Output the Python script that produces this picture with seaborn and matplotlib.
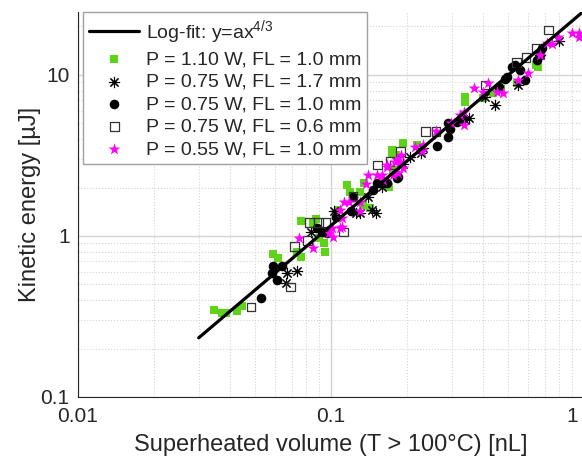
import numpy as np
import matplotlib
matplotlib.use("Agg")
import matplotlib.pyplot as plt
import matplotlib.ticker as mticker
import matplotlib.transforms as mtransforms
import seaborn as sns

# ---------------- data ----------------
fit_a = 25.0
fit_exp = 4.0 / 3.0
fit_x = [0.03, 1.0]

green_x = [0.0345, 0.037, 0.0385, 0.0425, 0.0445, 0.0592, 0.0619, 0.0732, 0.076, 0.0762,
           0.085, 0.0875, 0.090, 0.0935, 0.0948, 0.107, 0.1153, 0.119, 0.130, 0.134,
           0.1345, 0.143, 0.170, 0.174, 0.174, 0.176, 0.181, 0.192, 0.218, 0.225,
           0.339, 0.34, 0.40, 0.438, 0.47, 0.542, 0.646, 0.659]
green_y = [0.347, 0.334, 0.334, 0.34, 0.365, 0.773, 0.727, 0.80, 0.737, 1.23,
           1.2, 1.28, 0.968, 0.90, 0.80, 1.46, 2.07, 1.88, 1.88, 1.56,
           2.12, 1.49, 2.02, 3.25, 3.42, 2.57, 3.18, 3.77, 3.67, 3.59,
           6.82, 7.33, 7.16, 7.69, 8.15, 8.95, 11.53, 11.2]

aster_x = [0.0664, 0.0672, 0.0736, 0.083, 0.103, 0.1256, 0.130, 0.1405, 0.145, 0.1506,
           0.1585, 0.193, 0.205, 0.227, 0.232, 0.34, 0.352, 0.405, 0.445, 0.55, 0.67, 0.80]
aster_y = [0.51, 0.59, 0.609, 1.06, 1.42, 1.38, 1.38, 1.75, 1.45, 1.38,
           2.02, 2.8, 3.11, 3.29, 3.51, 5.25, 5.38, 7.33, 6.51, 8.66, 13.3, 16.3]

circle_x = [0.0528, 0.0583, 0.0592, 0.0614, 0.064, 0.0878, 0.0918, 0.0962, 0.105, 0.120,
            0.1225, 0.147, 0.1525, 0.166, 0.182, 0.184, 0.263, 0.289, 0.291, 0.295,
            0.314, 0.324, 0.333, 0.462, 0.4875, 0.494, 0.518, 0.534, 0.558, 0.585,
            0.65, 0.67, 0.681]
circle_y = [0.412, 0.59, 0.65, 0.533, 0.655, 1.12, 1.06, 1.04, 1.32, 1.42,
            1.75, 1.93, 2.12, 2.12, 2.28, 2.34, 3.62, 5.01, 4.14, 4.6,
            5.13, 5.25, 5.38, 8.39, 9.4, 9.75, 11.26, 11.53, 10.74, 9.31,
            12.39, 13.31, 14.65]

open_x = [0.0483, 0.069, 0.0715, 0.0808, 0.082, 0.0891, 0.0948, 0.112, 0.1222, 0.1524,
          0.171, 0.178, 0.1886, 0.2355, 0.26, 0.406, 0.542, 0.59, 0.646, 0.723]
open_y = [0.362, 0.482, 0.858, 0.935, 1.21, 1.21, 1.21, 1.06, 1.75, 2.76,
          2.89, 2.76, 3.34, 4.45, 4.45, 8.66, 11.92, 12.88, 14.65, 19.0]

star_x = [0.0747, 0.0849, 0.098, 0.1006, 0.1022, 0.1086, 0.109, 0.111, 0.111, 0.113,
          0.118, 0.130, 0.130, 0.1375, 0.1405, 0.1524, 0.1585, 0.161, 0.166, 0.166,
          0.176, 0.1785, 0.183, 0.1845, 0.187, 0.189, 0.192, 0.215, 0.229, 0.231,
          0.26, 0.297, 0.3236, 0.336, 0.336, 0.367, 0.40, 0.419, 0.451, 0.48,
          0.55, 0.603, 0.67, 0.713, 0.745, 0.791, 0.90, 0.957, 0.957]
star_y = [0.968, 0.846, 1.04, 1.12, 0.99, 1.12, 1.45, 1.13, 1.29, 1.63,
          1.63, 1.63, 1.42, 2.09, 2.39, 2.39, 2.39, 2.23, 2.76, 2.69,
          2.39, 2.86, 2.96, 2.45, 2.89, 3.18, 2.63, 3.56, 3.38, 3.67,
          4.51, 5.01, 5.65, 5.92, 4.89, 8.25, 7.87, 8.95, 7.87, 7.76,
          9.31, 10.33, 13.31, 15.85, 15.6, 17.3, 18.24, 18.24, 17.3]

labels = ["Log-fit: y=ax$^{4/3}$",
          "P = 1.10 W, FL = 1.0 mm",
          "P = 0.75 W, FL = 1.7 mm",
          "P = 0.75 W, FL = 1.0 mm",
          "P = 0.75 W, FL = 0.6 mm",
          "P = 0.55 W, FL = 1.0 mm"]
x_ticks = [0.01, 0.1, 1]
x_ticklabels = ["0.01", "0.1", "1"]
y_ticks = [0.1, 1, 10]
y_ticklabels = ["0.1", "1", "10"]

# ---------------- style ----------------
sns.set_style("white")
plt.rcParams["font.family"] = ["Liberation Sans", "DejaVu Sans"]
plt.rcParams["mathtext.fontset"] = "custom"
plt.rcParams["mathtext.rm"] = "Liberation Sans"
plt.rcParams["mathtext.default"] = "regular"

fig = plt.figure(figsize=(5.82, 4.66), dpi=100)
ax = fig.add_axes([78 / 582, 69 / 466, 506 / 582, 385 / 466])
ax.set_xscale("log")
ax.set_yscale("log")

green = "#5fd31a"
magenta = "#ff00ff"

sns.scatterplot(x=green_x, y=green_y, ax=ax, marker="s", s=38, color=green,
                edgecolor=green, linewidth=0, label=labels[1], zorder=3)
sns.scatterplot(x=aster_x, y=aster_y, ax=ax, marker=(8, 2, 0), s=55, color="black",
                edgecolor="black", linewidth=0.8, label=labels[2], zorder=3)
sns.scatterplot(x=circle_x, y=circle_y, ax=ax, marker="o", s=48, color="black",
                edgecolor="black", linewidth=0, label=labels[3], zorder=3)
sns.scatterplot(x=open_x, y=open_y, ax=ax, marker="s", s=40, facecolor="none",
                edgecolor="#333333", linewidth=0.9, label=labels[4], zorder=3)
sns.scatterplot(x=star_x, y=star_y, ax=ax, marker="*", s=80, color=magenta,
                edgecolor=magenta, linewidth=0, label=labels[5], zorder=3)

fit_y = [fit_a * xv ** fit_exp for xv in fit_x]
sns.lineplot(x=fit_x, y=fit_y, ax=ax, color="black", linewidth=2.3,
             label=labels[0], sort=False, estimator=None, zorder=4)

ax.set_xlim(0.01, 1.0)
ax.set_ylim(0.1, 24.6)

ax.xaxis.set_major_locator(mticker.FixedLocator(x_ticks))
ax.xaxis.set_major_formatter(mticker.FixedFormatter(x_ticklabels))
ax.yaxis.set_major_locator(mticker.FixedLocator(y_ticks))
ax.yaxis.set_major_formatter(mticker.FixedFormatter(y_ticklabels))
ax.xaxis.set_minor_locator(mticker.LogLocator(base=10, subs=np.arange(2, 10)))
ax.yaxis.set_minor_locator(mticker.LogLocator(base=10, subs=np.arange(2, 10)))
ax.xaxis.set_minor_formatter(mticker.NullFormatter())
ax.yaxis.set_minor_formatter(mticker.NullFormatter())

ax.tick_params(which="major", direction="in", length=4, width=0.8, labelsize=15,
               colors="#262626", pad=6)
ax.tick_params(which="minor", direction="in", length=2.5, width=0.6, colors="#262626")
ax.tick_params(axis="x", which="major", pad=7)

# keep the "1" label inside the picture, as in the reference
last_tick = ax.xaxis.get_major_ticks()[-1]
last_tick.label1.set_horizontalalignment("right")
shift = mtransforms.ScaledTranslation(-4 / 72, 0, fig.dpi_scale_trans)
last_tick.label1.set_transform(last_tick.label1.get_transform() + shift)

ax.grid(True, which="major", color="#d4d4d4", linestyle="-", linewidth=1.0)
ax.grid(True, which="minor", color="#d4d4d4", linestyle=":", linewidth=0.8)
ax.set_axisbelow(True)

for side in ["top", "right"]:
    ax.spines[side].set_visible(False)
for side in ["left", "bottom"]:
    ax.spines[side].set_color("#262626")
    ax.spines[side].set_linewidth(0.8)

ax.set_xlabel("Superheated volume (T > 100°C) [nL]", fontsize=17, color="#262626",
              labelpad=6)
ax.set_ylabel("Kinetic energy [µJ]", fontsize=17, color="#262626", labelpad=0)

handles, labs = ax.get_legend_handles_labels()
order = [labs.index(l) for l in labels]
leg = ax.legend([handles[i] for i in order], [labs[i] for i in order],
                loc="upper left", bbox_to_anchor=(0.01, 1.0), borderaxespad=0,
                fontsize=14, frameon=True, fancybox=False, framealpha=1,
                edgecolor="#a0a0a0", handlelength=2.6, handletextpad=0.35,
                labelspacing=0.25, borderpad=0.3)
leg.get_frame().set_linewidth(1.0)
leg.set_zorder(10)

fig.savefig("out.png", dpi=100)
